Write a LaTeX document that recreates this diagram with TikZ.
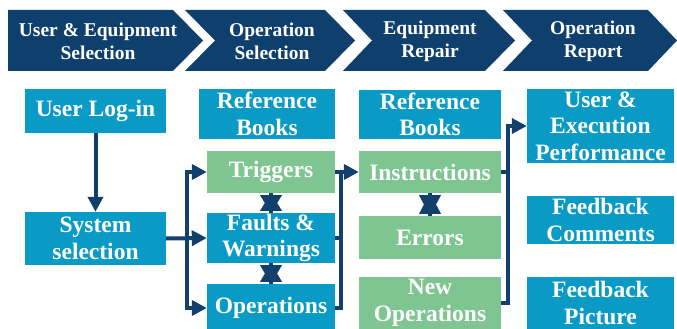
\documentclass[tikz,border=0pt]{standalone}
\usepackage{fontspec}
\setmainfont{Liberation Serif}
\usetikzlibrary{arrows.meta,calc}
\definecolor{chevnavy}{HTML}{0F3F6D}
\definecolor{boxblue}{HTML}{0A9AC6}
\definecolor{boxgreen}{HTML}{7EC591}
\definecolor{linenavy}{HTML}{123F6C}
\begin{document}
\begin{tikzpicture}[x=1pt,y=-1pt,
  chev/.style={fill=chevnavy},
  chevtext/.style={text=white, align=center, inner sep=0pt, font=\bfseries\fontsize{19.5}{23}\selectfont},
  box/.style={rectangle, fill=boxblue, text=white, align=center, inner sep=0pt, font=\bfseries\fontsize{23.5}{26.5}\selectfont},
  gbox/.style={box, fill=boxgreen},
  conn/.style={draw=linenavy, line width=4pt},
  tip/.tip={Triangle[length=15pt,width=15pt]},
  dhead/.style={fill=linenavy}
]
\clip (0,0) rectangle (677,329);
\fill[white] (0,0) rectangle (677,329);

% chevrons
\fill[chev] (8,10) -- (173,10) -- (203,40.5) -- (173,71) -- (8,71) -- cycle;
\fill[chev] (185,10) -- (325,10) -- (355,40.5) -- (325,71) -- (185,71) -- (215,40.5) -- cycle;
\fill[chev] (343,10) -- (485,10) -- (515,40.5) -- (485,71) -- (343,71) -- (372,40.5) -- cycle;
\fill[chev] (503,10) -- (648,10) -- (677,40.5) -- (648,71) -- (503,71) -- (532,40.5) -- cycle;

\node[chevtext] (c1) at (98,41.5) {User \& Equipment\\Selection};
\node[chevtext] (c2) at (272,41.5) {Operation\\Selection};
\node[chevtext] (c3) at (430,41.5) {Equipment\\Repair};
\node[chevtext] (c4) at (593,41.5) {Operation\\Report};

% column 1
\node[box, minimum width=141pt, minimum height=44pt] (login) at (95.5,111) {User Log-in};
\node[box, minimum width=141pt, minimum height=53pt] (sys) at (95.5,238.5) {System\\selection};

% column 2
\node[box, minimum width=136pt, minimum height=50pt] (ref1) at (267,114) {Reference\\Books};
\node[gbox, minimum width=128pt, minimum height=42pt] (trig) at (271,172) {Triggers};
\node[box, minimum width=128pt, minimum height=50pt] (faults) at (271,238) {Faults \&\\Warnings};
\node[box, minimum width=128pt, minimum height=48pt] (ops) at (271,308) {Operations};

% column 3
\node[box, minimum width=142pt, minimum height=49pt] (ref2) at (430,114.5) {Reference\\Books};
\node[gbox, minimum width=142pt, minimum height=42pt] (instr) at (430,172) {Instructions};
\node[gbox, minimum width=142pt, minimum height=43pt] (errors) at (430,237.5) {Errors};
\node[gbox, minimum width=142pt, minimum height=52pt] (newops) at (430,303) {New\\Operations};

% column 4
\node[box, minimum width=147pt, minimum height=74pt] (uep) at (600.5,126) {User \&\\Execution\\Performance};
\node[box, minimum width=147pt, minimum height=48pt] (fbc) at (600.5,220) {Feedback\\Comments};
\node[box, minimum width=147pt, minimum height=52pt] (fbp) at (600.5,303) {Feedback\\Picture};
\fill[boxgreen] (newops.south west) rectangle ($(newops.south east)+(0,10)$);
\fill[boxblue] (fbp.south west) rectangle ($(fbp.south east)+(0,10)$);
\fill[boxblue] (ops.south west) rectangle ($(ops.south east)+(0,10)$);

% connectors
\draw[conn, -tip] (login) -- (sys);
\coordinate (t1) at ($(sys.east)!0.5!(faults.west)$);
\draw[conn, -tip] (sys.east) -- (faults.west);
\draw[conn, -tip] (t1) |- (trig.west);
\draw[conn, -tip] (t1) |- (ops.west);

\coordinate (t2) at ($(trig.east)!0.25!(instr.west)$);
\draw[conn, -tip] (trig.east) -- (instr.west);
\draw[conn] (faults.east) -- (faults.east -| t2);
\draw[conn] (ops.east) -| (t2);

\coordinate (t3) at ($(instr.east)!0.25!(uep.west)$);
\draw[conn] (instr.east) -- (instr.east -| t3);
\draw[conn, -tip] (newops.east) -| (t3 |- uep.west) -- (uep.west);

% double-headed short arrows (heads overlapping)
\foreach \a/\b in {trig/faults, faults/ops, instr/errors}{
  \draw[conn] (\a.south) -- (\b.north);
  \fill[dhead] (\a.south) -- ($(\b.north)+(-11,-2)$) -- ($(\b.north)+(11,-2)$) -- cycle;
  \fill[dhead] (\b.north) -- ($(\a.south)+(-11,2)$) -- ($(\a.south)+(11,2)$) -- cycle;
}
\end{tikzpicture}
\end{document}
